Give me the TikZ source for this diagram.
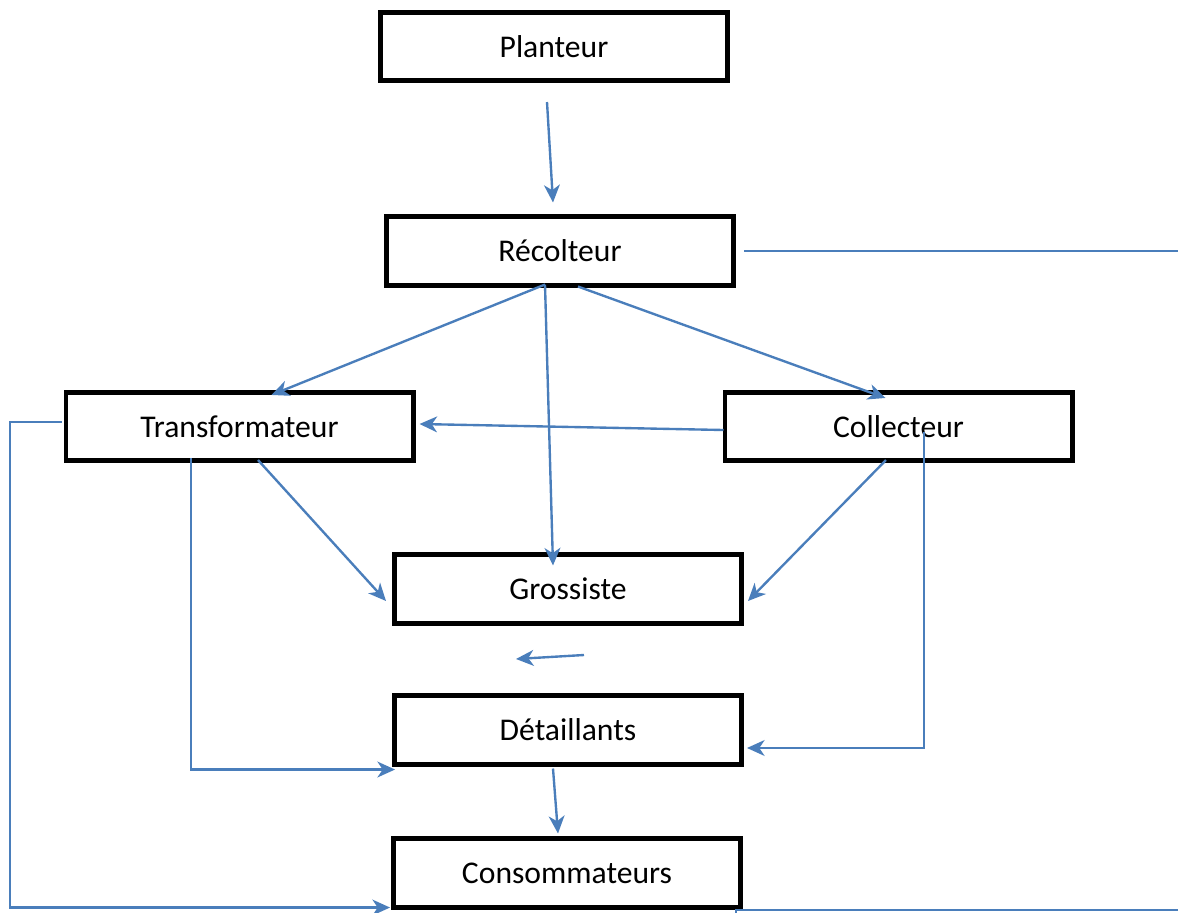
\documentclass[tikz,border=0pt]{standalone}
\usepackage{fontspec}
\setmainfont{Carlito}
\usetikzlibrary{arrows.meta,calc}
\definecolor{bleu}{RGB}{74,126,187}
\begin{document}
\begin{tikzpicture}[x=0.02cm,y=-0.02cm,
    boite/.style={draw=black,line width=2.6pt,minimum width=6.95cm,minimum height=1.37cm,inner sep=0pt,font=\fontsize{18}{20}\selectfont},
    fleche/.style={draw=bleu,line width=1.35pt,-{Stealth[length=10pt,width=9pt,inset=3pt]}},
    ligne/.style={draw=bleu,line width=1.35pt}]
     \useasboundingbox (0,0) rectangle (1178,913);
     % Les acteurs de la filière
     \node[boite] (plan) at (554,46.5) {Planteur};
     \node[boite] (rec) at (560,251) {Récolteur};
     \node[boite] (trans) at (239.5,426.5) {Transformateur};
     \node[boite] (coll) at (898.5,426.5) {Collecteur};
     \node[boite] (gros) at (568,589) {Grossiste};
     \node[boite] (det) at (568,730) {Détaillants};
     \node[boite] (cons) at (567,873) {Consommateurs};
     % Points libres
     \coordinate (droite1) at (1178,251);
     \coordinate (droite2) at (1178,910);
     \coordinate (coinbas) at (10,905);
     \coordinate (libreA) at (584,655);
     \coordinate (libreB) at (516,659);
     % Flèches depuis le récolteur
     \draw[fleche] ($(plan.south)+(-7,19)$) -- ($(rec.north)+(-7,-12)$);
     \draw[ligne] ($(rec.east)+(8,0)$) -- (droite1);
     \draw[fleche] ($(rec.south)+(-15,-3)$) -- ($(trans.north)+(32,5)$);
     \draw[fleche] ($(rec.south)+(-15,-3)$) -- ($(gros.north)+(-15,13)$);
     \draw[fleche] ($(rec.south)+(18,-1)$) -- ($(coll.north)+(-13,8)$);
     % Collecteur et transformateur
     \draw[fleche] ($(coll.west)+(1,3.5)$) -- ($(trans.east)+(4,-2.5)$);
     \draw[fleche] ($(trans.south)+(18.5,-3)$) -- ($(gros.west)+(-6,12)$);
     \draw[fleche] ($(coll.south)+(-12.5,-3)$) -- ($(gros.east)+(4,12)$);
     \draw[fleche] (libreA) -- (libreB);
     % Vers détaillants et consommateurs
     \draw[fleche] ($(trans.south)+(-48.5,-5)$) |- ($(det.south west)+(3,3)$);
     \draw[fleche] ($(coll.center)+(25.5,5.5)$) |- ($(det.east)+(3,18)$);
     \draw[fleche] ($(trans.west)+(-2,-4.5)$) -| (coinbas) |- ($(cons.south west)+(-1,-2)$);
     \draw[fleche] ($(det.south)+(-15,2)$) -- ($(cons.north)+(-9,-3)$);
     \draw[ligne] (droite2) -| ($(cons.south east)+(-7,3)$);
\end{tikzpicture}
\end{document}
